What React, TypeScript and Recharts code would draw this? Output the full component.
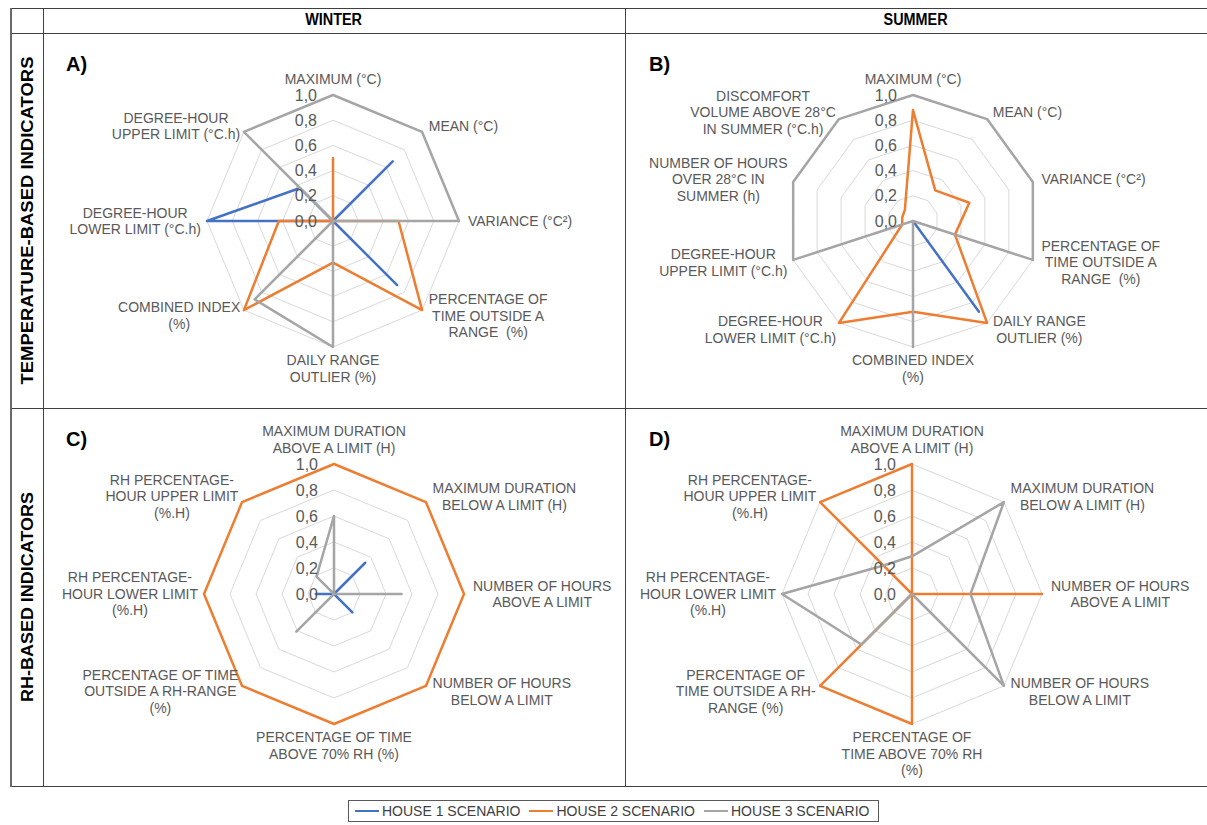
import React from "react";
import { PolarAngleAxis, PolarGrid, PolarRadiusAxis, Radar, RadarChart } from "recharts";

// ---- data ----
const seriesNames = ["HOUSE 1 SCENARIO", "HOUSE 2 SCENARIO", "HOUSE 3 SCENARIO"];
const seriesColors = ["#4472C4", "#ED7D31", "#A5A5A5"];
const radiusTicks = [0, 0.2, 0.4, 0.6, 0.8, 1.0];

const winterTempAxes = [
  "MAXIMUM (°C)",
  "MEAN (°C)",
  "VARIANCE (°C²)",
  "PERCENTAGE OF\nTIME OUTSIDE A\nRANGE  (%)",
  "DAILY RANGE\nOUTLIER (%)",
  "COMBINED INDEX\n(%)",
  "DEGREE-HOUR\nLOWER LIMIT (°C.h)",
  "DEGREE-HOUR\nUPPER LIMIT (°C.h)",
];
const winterTempHouse1 = [0, 0.67, 0, 0.72, 0, 0, 1.0, 0.37];
const winterTempHouse2 = [0.5, 0, 0.52, 1.0, 0.33, 1.0, 0.43, 0];
const winterTempHouse3 = [1.0, 1.0, 1.0, 0, 1.0, 0.88, 0, 1.0];

const summerTempAxes = [
  "MAXIMUM (°C)",
  "MEAN (°C)",
  "VARIANCE (°C²)",
  "PERCENTAGE OF\nTIME OUTSIDE A\nRANGE  (%)",
  "DAILY RANGE\nOUTLIER (%)",
  "COMBINED INDEX\n(%)",
  "DEGREE-HOUR\nLOWER LIMIT (°C.h)",
  "DEGREE-HOUR\nUPPER LIMIT (°C.h)",
  "NUMBER OF HOURS\nOVER 28°C IN\nSUMMER (h)",
  "DISCOMFORT\nVOLUME ABOVE 28°C\nIN SUMMER (°C.h)",
];
const summerTempHouse1 = [0, 0, 0, 0, 0.89, 0, 0, 0, 0, 0];
const summerTempHouse2 = [0.88, 0.3, 0.47, 0.35, 1.0, 0.72, 1.0, 0.09, 0.09, 0.11];
const summerTempHouse3 = [1.0, 1.0, 1.0, 1.0, 0, 1.0, 0, 1.0, 1.0, 1.0];

const winterRhAxes = [
  "MAXIMUM DURATION\nABOVE A LIMIT (H)",
  "MAXIMUM DURATION\nBELOW A LIMIT (H)",
  "NUMBER OF HOURS\nABOVE A LIMIT",
  "NUMBER OF HOURS\nBELOW A LIMIT",
  "PERCENTAGE OF TIME\nABOVE 70% RH (%)",
  "PERCENTAGE OF TIME\nOUTSIDE A RH-RANGE\n(%)",
  "RH PERCENTAGE-\nHOUR LOWER LIMIT\n(%.H)",
  "RH PERCENTAGE-\nHOUR UPPER LIMIT\n(%.H)",
];
const winterRhHouse1 = [0, 0.34, 0, 0.2, 0, 0, 0.14, 0];
const winterRhHouse2 = [1.0, 1.0, 1.0, 1.0, 1.0, 1.0, 1.0, 1.0];
const winterRhHouse3 = [0.6, 0, 0.52, 0, 0, 0.41, 0, 0.19];

const summerRhAxes = [
  "MAXIMUM DURATION\nABOVE A LIMIT (H)",
  "MAXIMUM DURATION\nBELOW A LIMIT (H)",
  "NUMBER OF HOURS\nABOVE A LIMIT",
  "NUMBER OF HOURS\nBELOW A LIMIT",
  "PERCENTAGE OF\nTIME ABOVE 70% RH\n(%)",
  "PERCENTAGE OF\nTIME OUTSIDE A RH-\nRANGE (%)",
  "RH PERCENTAGE-\nHOUR LOWER LIMIT\n(%.H)",
  "RH PERCENTAGE-\nHOUR UPPER LIMIT\n(%.H)",
];
const summerRhHouse1 = [0, 0, 0, 0, 0, 0, 0, 0];
const summerRhHouse2 = [1.0, 0, 1.0, 0, 1.0, 1.0, 0, 1.0];
const summerRhHouse3 = [0.29, 1.0, 0.45, 1.0, 0, 0.55, 1.0, 0.31];

// ---- styling ----
const FONT = '"Liberation Sans", Arial, sans-serif';
const LABEL_SIZE = 14;
const LINE_H = 16.5;
const TEXT_GRAY = "#595959";
const BORDER = "#404040";

type Row = { axis: string; h1: number; h2: number; h3: number };

function toRows(axes: string[], h1: number[], h2: number[], h3: number[]): Row[] {
  return axes.map((axis, i) => ({ axis, h1: h1[i], h2: h2[i], h3: h3[i] }));
}

let ctx: CanvasRenderingContext2D | null = null;
function textWidth(s: string): number {
  if (!ctx) ctx = document.createElement("canvas").getContext("2d");
  if (!ctx) return s.length * 8;
  ctx.font = `${LABEL_SIZE}px ${FONT}`;
  return ctx.measureText(s).width;
}

// multi-line category label, lines centred inside their block like Excel does
function AngleTick(props: any) {
  const { x, y, textAnchor, payload, centerY } = props;
  const lines = String(payload.value).split("\n");
  const w = Math.max(...lines.map(textWidth));
  let lx = x;
  if (textAnchor === "start") lx = x + 1 + w / 2;
  else if (textAnchor === "end") lx = x + 2 - w / 2;

  let firstY: number;
  if (textAnchor === "middle") {
    firstY = y < centerY ? y - 8 - (lines.length - 1) * LINE_H : y + 5.5;
  } else {
    firstY = y - ((lines.length - 1) * LINE_H) / 2;
  }
  return (
    <text fontFamily={FONT} fontSize={LABEL_SIZE} fill={TEXT_GRAY} textAnchor="middle">
      {lines.map((l, i) => (
        <tspan key={i} x={lx} y={firstY + i * LINE_H + LABEL_SIZE * 0.35} style={{ whiteSpace: "pre" }}>
          {l}
        </tspan>
      ))}
    </text>
  );
}

function RadiusTick(props: any) {
  const { x, y, payload } = props;
  return (
    <text x={x - 16} y={y + 16 * 0.35} textAnchor="end" fontFamily={FONT} fontSize={16} fill={TEXT_GRAY}>
      {Number(payload.value).toFixed(1).replace(".", ",")}
    </text>
  );
}

function Panel({
  data,
  left,
  top,
  width,
  height,
  cx,
  cy,
  radius,
  letter,
}: {
  data: Row[];
  left: number;
  top: number;
  width: number;
  height: number;
  cx: number;
  cy: number;
  radius: number;
  letter: string;
}) {
  return (
    <div style={{ position: "absolute", left, top, width, height }}>
      <div
        style={{
          position: "absolute",
          left: 23,
          top: 19,
          fontFamily: FONT,
          fontWeight: 700,
          fontSize: 20,
          color: "#000",
        }}
      >
        {letter}
      </div>
      <RadarChart
        width={width}
        height={height}
        data={data}
        cx={cx}
        cy={cy}
        outerRadius={radius}
        margin={{ top: 0, right: 0, bottom: 0, left: 0 }}
      >
        <PolarGrid gridType="polygon" radialLines={false} stroke="#d9d9d9" strokeWidth={1} />
        <PolarAngleAxis
          dataKey="axis"
          axisLine={false}
          tickLine={false}
          tick={(p: any) => <AngleTick {...p} centerY={cy} />}
        />
        {(["h1", "h2", "h3"] as const).map((k, i) => (
          <Radar
            key={k}
            name={seriesNames[i]}
            dataKey={k}
            stroke={seriesColors[i]}
            strokeWidth={2.5}
            strokeLinejoin="round"
            fill="none"
            fillOpacity={0}
            dot={false}
            isAnimationActive={false}
          />
        ))}
        <PolarRadiusAxis
          angle={90}
          type="number"
          domain={[0, 1]}
          ticks={radiusTicks}
          axisLine={false}
          tickLine={false}
          tick={RadiusTick}
        />
      </RadarChart>
    </div>
  );
}

function Line({ x, y, w, h, c = BORDER }: { x: number; y: number; w: number; h: number; c?: string }) {
  return <div style={{ position: "absolute", left: x, top: y, width: w, height: h, background: c }} />;
}

export default function App() {
  const winterTemp = toRows(winterTempAxes, winterTempHouse1, winterTempHouse2, winterTempHouse3);
  const summerTemp = toRows(summerTempAxes, summerTempHouse1, summerTempHouse2, summerTempHouse3);
  const winterRh = toRows(winterRhAxes, winterRhHouse1, winterRhHouse2, winterRhHouse3);
  const summerRh = toRows(summerRhAxes, summerRhHouse1, summerRhHouse2, summerRhHouse3);

  const headerStyle: React.CSSProperties = {
    position: "absolute",
    top: 11,
    textAlign: "center",
    fontWeight: 700,
    fontSize: 16,
    color: "#000",
  };

  return (
    <div
      style={{
        position: "absolute",
        left: 0,
        top: 0,
        width: 1207,
        height: 825,
        background: "#fff",
        overflow: "hidden",
        fontFamily: FONT,
      }}
    >
      {/* table grid */}
      <Line x={10} y={8} w={1197} h={1} />
      <Line x={10} y={33} w={1197} h={1} />
      <Line x={10} y={408} w={1197} h={1} />
      <Line x={10} y={786} w={1197} h={1} />
      <Line x={10} y={8} w={2} h={779} c="#6a6a6a" />
      <Line x={43} y={8} w={1} h={779} />
      <Line x={625} y={8} w={1} h={779} />

      {/* column headers */}
      <div style={{ ...headerStyle, left: 43, width: 582 }}>
        <span style={{ display: "inline-block", transform: "scaleX(0.9)" }}>WINTER</span>
      </div>
      <div style={{ ...headerStyle, left: 625, width: 581 }}>
        <span style={{ display: "inline-block", transform: "scaleX(0.9)" }}>SUMMER</span>
      </div>

      {/* row headers */}
      <svg style={{ position: "absolute", left: 12, top: 34 }} width={31} height={752}>
        <text
          transform={`translate(21, ${220.5 - 34}) rotate(-90)`}
          textAnchor="middle"
          fontFamily={FONT}
          fontWeight={700}
          fontSize={16}
          textLength={328}
          lengthAdjust="spacingAndGlyphs"
          fill="#000"
        >
          TEMPERATURE-BASED INDICATORS
        </text>
        <text
          transform={`translate(21, ${597 - 34}) rotate(-90)`}
          textAnchor="middle"
          fontFamily={FONT}
          fontWeight={700}
          fontSize={16}
          textLength={210}
          lengthAdjust="spacingAndGlyphs"
          fill="#000"
        >
          RH-BASED INDICATORS
        </text>
      </svg>

      <Panel data={winterTemp} letter="A)" left={43} top={34} width={582} height={374} cx={290} cy={187} radius={126} />
      <Panel data={summerTemp} letter="B)" left={626} top={34} width={580} height={374} cx={287} cy={187} radius={126} />
      <Panel data={winterRh} letter="C)" left={43} top={409} width={582} height={377} cx={291} cy={185} radius={130} />
      <Panel data={summerRh} letter="D)" left={626} top={409} width={580} height={377} cx={286} cy={185} radius={130} />

      {/* legend */}
      <div
        style={{
          position: "absolute",
          left: 348,
          top: 800,
          width: 531,
          height: 22,
          border: "1px solid #595959",
          display: "flex",
          alignItems: "center",
          paddingLeft: 6,
          boxSizing: "border-box",
          fontSize: 14,
          color: "#404040",
          whiteSpace: "nowrap",
        }}
      >
        {seriesNames.map((n, i) => (
          <div key={n} style={{ display: "flex", alignItems: "center", marginRight: 9 }}>
            <div style={{ width: 24, height: 2.5, background: seriesColors[i], marginRight: 3 }} />
            <span>{n}</span>
          </div>
        ))}
      </div>
    </div>
  );
}
